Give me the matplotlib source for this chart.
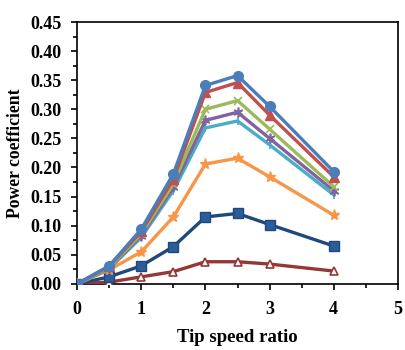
import matplotlib
matplotlib.use("Agg")
import matplotlib.pyplot as plt
from matplotlib.ticker import MultipleLocator

tsr = [0, 0.5, 1, 1.5, 2, 2.5, 3, 4]
s_blue = [0, 0.031, 0.094, 0.189, 0.341, 0.358, 0.305, 0.193]
s_red = [0, 0.030, 0.090, 0.180, 0.329, 0.346, 0.290, 0.184]
s_green = [0, 0.028, 0.086, 0.172, 0.300, 0.315, 0.266, 0.167]
s_purple = [0, 0.027, 0.083, 0.166, 0.281, 0.295, 0.250, 0.160]
s_cyan = [0, 0.026, 0.080, 0.160, 0.268, 0.280, 0.239, 0.153]
s_orange = [0, 0.024, 0.055, 0.115, 0.206, 0.216, 0.184, 0.118]
s_navy = [0, 0.012, 0.031, 0.064, 0.115, 0.121, 0.102, 0.065]
s_maroon = [0, 0.003, 0.012, 0.021, 0.038, 0.038, 0.034, 0.022]

x_ticks = [0, 1, 2, 3, 4, 5]
y_ticks = [0.00, 0.05, 0.10, 0.15, 0.20, 0.25, 0.30, 0.35, 0.40, 0.45]

plt.rcParams['font.family'] = ['Liberation Serif', 'DejaVu Serif']

fig = plt.figure(figsize=(4.06, 3.5), dpi=100)
ax = fig.add_axes([0.190, 0.189, 0.790, 0.748])

lw = 2.4
ax.plot(tsr, s_maroon, color='#953735', lw=lw, marker='^', ms=6, mfc='white', mec='#953735', mew=1.2, zorder=3)
ax.plot(tsr, s_navy, color='#1F497D', lw=lw, marker='s', ms=7, mfc='#2C5D9A', mec='#1F497D', zorder=3)
ax.plot(tsr, s_orange, color='#F79646', lw=lw, marker='*', ms=8, mfc='#F79646', mec='#F79646', zorder=3)
ax.plot(tsr, s_cyan, color='#4BACC6', lw=lw, marker='|', ms=6, mew=1.2, zorder=3)
ax.plot(tsr, s_purple, color='#8064A2', lw=lw, marker=(6, 2, 0), ms=7, mew=1.2, zorder=3)
ax.plot(tsr, s_green, color='#9BBB59', lw=lw, marker='x', ms=6, mew=1.2, zorder=3)
ax.plot(tsr, s_red, color='#C0504D', lw=lw, marker='^', ms=7, mfc='#C0504D', mec='#C0504D', zorder=3)
ax.plot(tsr, s_blue, color='#4A7EBB', lw=lw, marker='o', ms=7, mfc='#4A7EBB', mec='#4A7EBB', zorder=3)

ax.set_xlim(0, 5)
ax.set_ylim(0, 0.45)
ax.set_xticks(x_ticks)
ax.set_yticks(y_ticks)
ax.set_xticklabels([str(v) for v in x_ticks], fontsize=13, fontweight='bold')
ax.set_yticklabels([f"{v:.2f}" for v in y_ticks], fontsize=13, fontweight='bold')
ax.xaxis.set_minor_locator(MultipleLocator(0.5))
ax.yaxis.set_minor_locator(MultipleLocator(0.025))
ax.tick_params(which='both', direction='out', width=1.2, top=False, right=False)
ax.tick_params(which='major', length=4)
ax.tick_params(which='minor', length=3)
ax.tick_params(axis='x', which='major', pad=8)
ax.tick_params(axis='y', which='major', pad=7)
for sp in ax.spines.values():
    sp.set_linewidth(1.2)
ax.set_xlabel('Tip speed ratio', fontsize=13.5, fontweight='bold', labelpad=8)
ax.set_ylabel('Power coefficient', fontsize=12.7, fontweight='bold', labelpad=5)

fig.savefig('out.png', dpi=100)
